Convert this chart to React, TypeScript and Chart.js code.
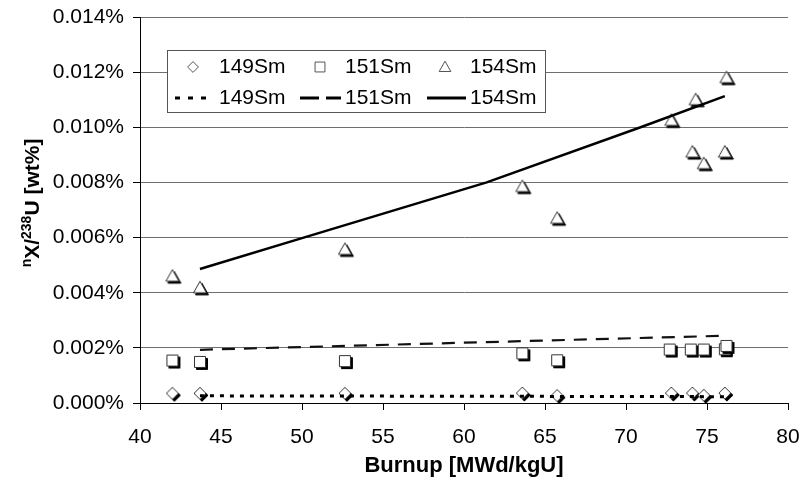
import React, { useEffect, useRef } from "react";
import { Chart, registerables } from "chart.js";

Chart.register(...registerables);

// ---- Data (burnup in MWd/kgU, ratio in wt%) ----
const burnup149 = [42.0, 43.7, 52.65, 63.6, 65.75, 72.8, 74.1, 74.8, 76.1];
const sm149 = [0.00035, 0.00035, 0.00035, 0.00036, 0.00027, 0.00036, 0.00036, 0.00028, 0.00036];

const burnup151 = [42.0, 43.7, 52.65, 63.6, 65.75, 72.7, 74.0, 74.8, 76.1, 76.2];
const sm151 = [0.00154, 0.00149, 0.00152, 0.0018, 0.00155, 0.00194, 0.00194, 0.00194, 0.00195, 0.00207];

const burnup154 = [42.0, 43.7, 52.65, 63.6, 65.75, 72.8, 74.1, 74.3, 74.8, 76.1, 76.2];
const sm154 = [0.0046, 0.00418, 0.00557, 0.00785, 0.0067, 0.01025, 0.0091, 0.011, 0.00868, 0.0091, 0.0118];

const trend149X = [43.7, 76.1];
const trend149Y = [0.00026, 0.00023];
const trend151X = [43.7, 76.1];
const trend151Y = [0.00193, 0.00244];
const trend154X = [43.7, 50.1, 61.4, 70.9, 76.1];
const trend154Y = [0.00486, 0.006, 0.008, 0.01, 0.01113];

const seriesNames = ["149Sm", "151Sm", "154Sm"];
const xTitle = "Burnup [MWd/kgU]";

const FONT = '"Liberation Sans", Arial, sans-serif';

const pts = (xs: number[], ys: number[]) => xs.map((x, i) => ({ x, y: ys[i] }));

type Kind = "diamond" | "square" | "triangle";

function shapePath(ctx: CanvasRenderingContext2D, kind: Kind, cx: number, cy: number, s = 1) {
  ctx.beginPath();
  if (kind === "diamond") {
    const h = 6 * s;
    ctx.moveTo(cx, cy - h);
    ctx.lineTo(cx + h, cy);
    ctx.lineTo(cx, cy + h);
    ctx.lineTo(cx - h, cy);
  } else if (kind === "square") {
    const h = 5.5 * s;
    ctx.moveTo(cx - h, cy - h);
    ctx.lineTo(cx + h, cy - h);
    ctx.lineTo(cx + h, cy + h);
    ctx.lineTo(cx - h, cy + h);
  } else {
    ctx.moveTo(cx, cy - 6.5 * s);
    ctx.lineTo(cx + 6.5 * s, cy + 5 * s);
    ctx.lineTo(cx - 6.5 * s, cy + 5 * s);
  }
  ctx.closePath();
}

function makeMarker(kind: Kind): HTMLCanvasElement {
  const c = document.createElement("canvas");
  c.width = 24;
  c.height = 24;
  const ctx = c.getContext("2d")!;
  ctx.lineWidth = 1;
  shapePath(ctx, kind, 14, 14);
  ctx.fillStyle = "#000";
  ctx.fill();
  ctx.strokeStyle = "#000";
  ctx.stroke();
  shapePath(ctx, kind, 12, 12);
  ctx.fillStyle = "#fff";
  ctx.fill();
  ctx.strokeStyle = "#333";
  ctx.stroke();
  return c;
}

const legendPlugin = {
  id: "customLegend",
  afterDatasetsDraw(chart: any) {
    const ctx: CanvasRenderingContext2D = chart.ctx;
    ctx.save();
    ctx.fillStyle = "#fff";
    ctx.fillRect(167.5, 50.5, 378, 62);
    ctx.strokeStyle = "#555";
    ctx.lineWidth = 1;
    ctx.strokeRect(167.5, 50.5, 378, 62);

    const r1 = 67;
    const r2 = 98;
    const textX = [219, 345, 470];
    const markX = [193, 320, 445];
    const kinds: Kind[] = ["diamond", "square", "triangle"];
    ctx.font = `21px ${FONT}`;
    ctx.fillStyle = "#000";
    ctx.textBaseline = "middle";
    ctx.textAlign = "left";
    for (let i = 0; i < 3; i++) {
      ctx.fillText(seriesNames[i], textX[i], r1);
      ctx.fillText(seriesNames[i], textX[i], r2);
      shapePath(ctx, kinds[i], markX[i], r1, 0.9);
      ctx.fillStyle = "#fff";
      ctx.fill();
      ctx.strokeStyle = "#555";
      ctx.lineWidth = 1;
      ctx.stroke();
      ctx.fillStyle = "#000";
    }
    ctx.strokeStyle = "#000";
    ctx.lineWidth = 3;
    ctx.lineCap = "butt";
    ctx.setLineDash([5, 8]);
    ctx.beginPath();
    ctx.moveTo(175, r2);
    ctx.lineTo(207, r2);
    ctx.stroke();
    ctx.setLineDash([19, 7]);
    ctx.beginPath();
    ctx.moveTo(300, r2);
    ctx.lineTo(341, r2);
    ctx.stroke();
    ctx.setLineDash([]);
    ctx.beginPath();
    ctx.moveTo(427, r2);
    ctx.lineTo(466, r2);
    ctx.stroke();
    ctx.restore();
  },
};

const titlePlugin = {
  id: "axisTitles",
  afterDraw(chart: any) {
    const ctx: CanvasRenderingContext2D = chart.ctx;
    const area = chart.chartArea;
    ctx.save();
    ctx.fillStyle = "#000";
    ctx.font = `bold 22px ${FONT}`;
    ctx.textAlign = "center";
    ctx.textBaseline = "middle";
    ctx.fillText(xTitle, (area.left + area.right) / 2, 466);

    const big = `bold 21px ${FONT}`;
    const small = `bold 14px ${FONT}`;
    const pieces: [string, boolean][] = [
      ["n", true],
      ["X/", false],
      ["238", true],
      ["U [wt%]", false],
    ];
    let total = 0;
    const widths = pieces.map(([t, sup]) => {
      ctx.font = sup ? small : big;
      const w = ctx.measureText(t).width;
      total += w;
      return w;
    });
    ctx.translate(31, (area.top + area.bottom) / 2 - 7);
    ctx.rotate(-Math.PI / 2);
    ctx.textAlign = "left";
    ctx.textBaseline = "alphabetic";
    let x = -total / 2;
    pieces.forEach(([t, sup], i) => {
      ctx.font = sup ? small : big;
      ctx.fillText(t, x, sup ? 0 : 7.5);
      x += widths[i];
    });
    ctx.restore();
  },
};

export default function App() {
  const ref = useRef<HTMLCanvasElement>(null);

  useEffect(() => {
    if (!ref.current) return;
    Chart.defaults.font.family = FONT;
    const diamond = makeMarker("diamond");
    const square = makeMarker("square");
    const triangle = makeMarker("triangle");

    const chart = new Chart(ref.current, {
      type: "scatter",
      data: {
        datasets: [
          {
            label: "149Sm trend",
            data: pts(trend149X, trend149Y),
            showLine: true,
            pointRadius: 0,
            borderColor: "#000",
            borderWidth: 3,
            borderDash: [4, 6],
            order: 1,
          },
          {
            label: "151Sm trend",
            data: pts(trend151X, trend151Y),
            showLine: true,
            pointRadius: 0,
            borderColor: "#111",
            borderWidth: 2.2,
            borderDash: [13, 9],
            order: 1,
          },
          {
            label: "154Sm trend",
            data: pts(trend154X, trend154Y),
            showLine: true,
            pointRadius: 0,
            borderColor: "#000",
            borderWidth: 2.5,
            order: 1,
          },
          {
            label: "149Sm",
            data: pts(burnup149, sm149),
            pointStyle: diamond as any,
            pointRadius: 7,
            order: 2,
          },
          {
            label: "151Sm",
            data: pts(burnup151, sm151),
            pointStyle: square as any,
            pointRadius: 7,
            order: 2,
          },
          {
            label: "154Sm",
            data: pts(burnup154, sm154),
            pointStyle: triangle as any,
            pointRadius: 7,
            order: 2,
          },
        ],
      },
      options: {
        animation: false,
        responsive: false,
        events: [],
        layout: { padding: { top: 17, right: 11, left: 0, bottom: 0 } },
        plugins: { legend: { display: false }, tooltip: { enabled: false } },
        scales: {
          x: {
            type: "linear",
            min: 40,
            max: 80,
            ticks: {
              stepSize: 5,
              color: "#000",
              font: { size: 21, family: FONT },
              padding: 15,
              maxRotation: 0,
            },
            grid: { drawOnChartArea: false, drawTicks: true, tickLength: 7, color: "#000" },
            border: { color: "#000", width: 1 },
            afterFit: (s: any) => {
              s.height = 86;
              s.paddingLeft = 0;
              s.paddingRight = 0;
            },
          },
          y: {
            min: 0,
            max: 0.014,
            ticks: {
              stepSize: 0.002,
              color: "#000",
              font: { size: 21, family: FONT },
              padding: 9,
              callback: (v: any) => Number(v).toFixed(3) + "%",
            },
            grid: { color: "#6e6e6e", tickColor: "#000", tickLength: 7 },
            border: { color: "#000", width: 1 },
            afterFit: (s: any) => {
              s.width = 140;
              s.paddingTop = 0;
              s.paddingBottom = 0;
            },
          },
        },
      },
      plugins: [legendPlugin, titlePlugin],
    });
    return () => chart.destroy();
  }, []);

  return (
    <div style={{ position: "absolute", left: 0, top: 0, width: 799, height: 489, background: "#fff" }}>
      <canvas ref={ref} width={799} height={489} style={{ display: "block" }} />
    </div>
  );
}
